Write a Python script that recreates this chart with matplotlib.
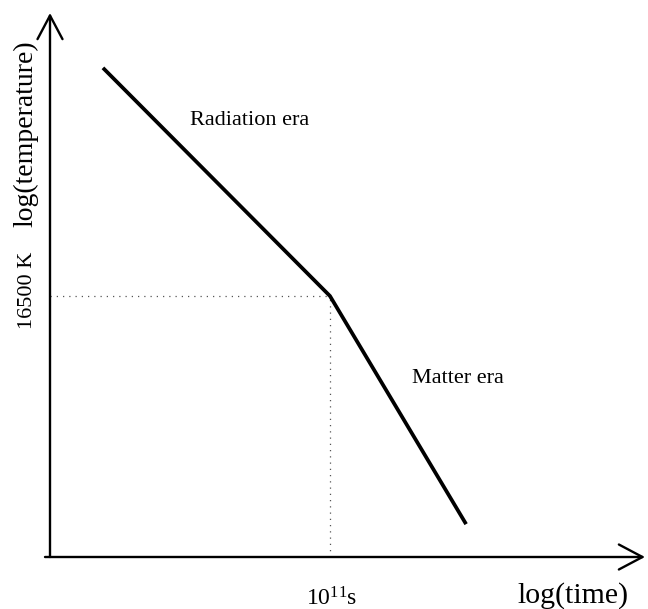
import matplotlib
matplotlib.use("Agg")
import matplotlib.pyplot as plt

# Data (arbitrary log units)
log_time = [2.08, 11.0, 16.35]
log_temp = [8.72, 4.22, -0.28]
kink_time = 11.0
kink_temp = 4.22
x_labels = {"kink": r"$\mathregular{10^{11}s}$", "axis": "log(time)"}
y_labels = {"kink": "16500 K", "axis": "log(temperature)"}
era_labels = ["Radiation era", "Matter era"]

plt.rcParams['font.family'] = ['Liberation Serif', 'DejaVu Serif']

W, H = 648, 609
fig = plt.figure(figsize=(W / 100, H / 100), dpi=100)
x0p, y0p = 50, 557
ax = fig.add_axes([x0p / W, (H - y0p) / H, (W - x0p) / W, y0p / H])
xs = 25.45  # px per unit
ys = 50.7
ymin = kink_temp - (y0p - 296) / ys
ax.set_xlim(0, (W - x0p) / xs)
ax.set_ylim(ymin, ymin + y0p / ys)
ax.axis("off")

# axes with arrows
arrow_kw = dict(arrowstyle="->,head_length=0.85,head_width=0.45", lw=1.7,
                color="black", mutation_scale=20, shrinkA=0, shrinkB=0)
ax.annotate("", xy=(0, 1 - 13 / y0p), xytext=(0, 0), xycoords="axes fraction",
            arrowprops=arrow_kw)
ax.annotate("", xy=((645 - x0p) / (W - x0p), 0), xytext=(-5 / (W - x0p), 0),
            xycoords="axes fraction", arrowprops=arrow_kw)

# dotted guides
ax.plot([ax.get_xlim()[0], kink_time], [kink_temp, kink_temp], ls=(0, (1, 4)),
        color="#555555", lw=0.9)
ax.plot([kink_time, kink_time], [ymin, kink_temp], ls=(0, (1, 4)),
        color="#555555", lw=0.9)

# main curve
ax.plot(log_time, log_temp, color="black", lw=2.7, solid_capstyle="butt")


def px(x, y):
    return x / W, 1 - y / H


# era labels
fig.text(*px(190, 125), era_labels[0], fontsize=16, ha="left", va="baseline")
fig.text(*px(412, 383), era_labels[1], fontsize=16, ha="left", va="baseline")

# axis labels
fig.text(*px(28, 290), y_labels["kink"], rotation=90, fontsize=16,
         ha="center", va="center")
fig.text(*px(26, 134), y_labels["axis"], rotation=90, fontsize=20,
         ha="center", va="center")
fig.text(*px(306, 605), x_labels["kink"], fontsize=17,
         ha="left", va="baseline")
fig.text(*px(517, 603), x_labels["axis"], fontsize=21.5,
         ha="left", va="baseline")

fig.savefig("out.png", dpi=100)
